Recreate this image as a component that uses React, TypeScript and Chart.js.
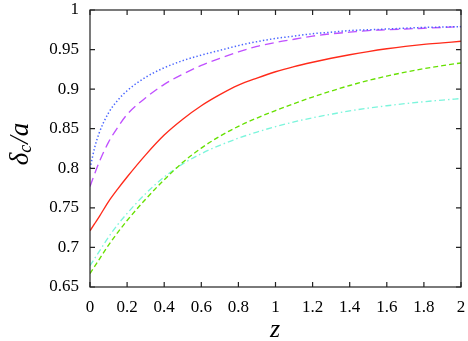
import React, { useEffect, useRef } from "react";
import { Chart, registerables } from "chart.js";

Chart.register(...registerables);

const zValues = [0, 0.025, 0.05, 0.1, 0.15, 0.2, 0.3, 0.4, 0.5, 0.6, 0.7, 0.8, 0.9, 1.0, 1.1, 1.2, 1.3, 1.4, 1.5, 1.6, 1.7, 1.8, 1.9, 2.0];

const blueDotted = [0.800, 0.826, 0.845, 0.870, 0.886, 0.898, 0.915, 0.927, 0.936, 0.943, 0.949, 0.955, 0.960, 0.964, 0.967, 0.970, 0.972, 0.974, 0.975, 0.976, 0.977, 0.978, 0.9785, 0.979];
const purpleDashed = [0.777, 0.793, 0.808, 0.833, 0.852, 0.868, 0.889, 0.906, 0.919, 0.930, 0.939, 0.947, 0.954, 0.959, 0.963, 0.967, 0.970, 0.972, 0.974, 0.975, 0.976, 0.977, 0.978, 0.979];
const redSolid = [0.721, 0.730, 0.739, 0.758, 0.774, 0.789, 0.817, 0.842, 0.862, 0.879, 0.893, 0.905, 0.914, 0.922, 0.9285, 0.934, 0.939, 0.9435, 0.9475, 0.951, 0.954, 0.9565, 0.9585, 0.9605];
const greenDashed = [0.667, 0.676, 0.685, 0.703, 0.719, 0.734, 0.761, 0.7855, 0.8075, 0.8255, 0.8405, 0.853, 0.8635, 0.873, 0.8818, 0.890, 0.8976, 0.9046, 0.9109, 0.9165, 0.9215, 0.9259, 0.9297, 0.9331];
const cyanDashDot = [0.677, 0.686, 0.695, 0.713, 0.729, 0.743, 0.768, 0.789, 0.8055, 0.8185, 0.829, 0.838, 0.8458, 0.8526, 0.8586, 0.8638, 0.8683, 0.8725, 0.876, 0.879, 0.8817, 0.8841, 0.8862, 0.8881];

const xTicks = [0, 0.2, 0.4, 0.6, 0.8, 1, 1.2, 1.4, 1.6, 1.8, 2];
const yTicks = [0.65, 0.7, 0.75, 0.8, 0.85, 0.9, 0.95, 1];

const SERIF = "'Liberation Serif', 'DejaVu Serif', serif";

const toPoints = (ys: number[]) => zValues.map((z, i) => ({ x: z, y: ys[i] }));

const framePlugin = {
  id: "frame",
  afterDraw(chart: any) {
    const { ctx, chartArea } = chart;
    const { left, right, top, bottom } = chartArea;
    const xs = chart.scales.x;
    const ys = chart.scales.y;
    ctx.save();
    ctx.strokeStyle = "#222";
    ctx.lineWidth = 1.2;
    ctx.strokeRect(left, top, right - left, bottom - top);
    ctx.beginPath();
    const tl = 5;
    xTicks.forEach((t) => {
      const px = xs.getPixelForValue(t);
      ctx.moveTo(px, bottom);
      ctx.lineTo(px, bottom - tl);
      ctx.moveTo(px, top);
      ctx.lineTo(px, top + tl);
    });
    yTicks.forEach((t) => {
      const py = ys.getPixelForValue(t);
      ctx.moveTo(left, py);
      ctx.lineTo(left + tl, py);
      ctx.moveTo(right, py);
      ctx.lineTo(right - tl, py);
    });
    ctx.stroke();

    // y-axis title: δ_c / a
    ctx.fillStyle = "#000";
    ctx.translate(21, 144);
    ctx.rotate(-Math.PI / 2);
    const big = `italic 27px ${SERIF}`;
    const small = `italic 18px ${SERIF}`;
    ctx.font = big;
    const wD = ctx.measureText("δ").width;
    ctx.font = small;
    const wC = ctx.measureText("c").width;
    ctx.font = big;
    const wR = ctx.measureText("/a").width;
    const total = wD + wC + wR + 1;
    let x0 = -total / 2;
    ctx.textBaseline = "middle";
    ctx.textAlign = "left";
    ctx.font = big;
    ctx.fillText("δ", x0, 0);
    x0 += wD;
    ctx.font = small;
    ctx.fillText("c", x0, 5);
    x0 += wC + 1;
    ctx.font = big;
    ctx.fillText("/a", x0, 0);
    ctx.restore();

    // x-axis title: z
    ctx.save();
    ctx.fillStyle = "#000";
    ctx.font = `italic 26px ${SERIF}`;
    ctx.textAlign = "center";
    ctx.textBaseline = "alphabetic";
    ctx.fillText("z", 275, 337);
    ctx.restore();
  },
};

export default function App() {
  const ref = useRef<HTMLCanvasElement>(null);

  useEffect(() => {
    document.body.style.margin = "0";
    if (!ref.current) return;
    const mk = (label: string, ys: number[], color: string, dash: number[], width = 1.35) => ({
      label,
      data: toPoints(ys),
      borderColor: color,
      backgroundColor: color,
      borderWidth: width,
      borderDash: dash,
      pointRadius: 0,
      fill: false,
      cubicInterpolationMode: "monotone" as const,
    });
    const zeroPad = (s: any) => {
      s.paddingLeft = 0;
      s.paddingRight = 0;
      s.paddingTop = 0;
      s.paddingBottom = 0;
    };
    const chart = new Chart(ref.current, {
      type: "line",
      data: {
        datasets: [
          mk("red", redSolid, "#ff2a1a", []),
          mk("green", greenDashed, "#66e000", [5, 3]),
          mk("blue", blueDotted, "#4a66ff", [1.4, 2.2], 1.5),
          mk("purple", purpleDashed, "#c050ff", [9, 5]),
          mk("cyan", cyanDashDot, "#7cf5dc", [6, 3, 1.5, 3]),
        ],
      },
      options: {
        responsive: false,
        animation: false,
        layout: { padding: { top: 10, right: 7, left: 0, bottom: 0 } },
        plugins: { legend: { display: false }, tooltip: { enabled: false } },
        scales: {
          x: {
            type: "linear",
            min: 0,
            max: 2,
            grid: { display: false, drawTicks: false },
            border: { display: false },
            ticks: {
              stepSize: 0.2,
              padding: 10,
              color: "#000",
              font: { family: SERIF, size: 17 },
              callback: (v: any) => String(Number(Number(v).toFixed(2))),
            },
            afterFit: (s: any) => {
              s.height = 54;
              zeroPad(s);
            },
          },
          y: {
            min: 0.65,
            max: 1,
            grid: { display: false, drawTicks: false },
            border: { display: false },
            ticks: {
              stepSize: 0.05,
              padding: 11,
              color: "#000",
              font: { family: SERIF, size: 17 },
              callback: (v: any) => String(Number(Number(v).toFixed(2))),
            },
            afterFit: (s: any) => {
              s.width = 90;
              zeroPad(s);
            },
          },
        },
      },
      plugins: [framePlugin],
    });
    return () => chart.destroy();
  }, []);

  return (
    <div style={{ position: "absolute", left: 0, top: 0, width: 468, height: 341 }}>
      <canvas ref={ref} width={468} height={341} />
    </div>
  );
}
